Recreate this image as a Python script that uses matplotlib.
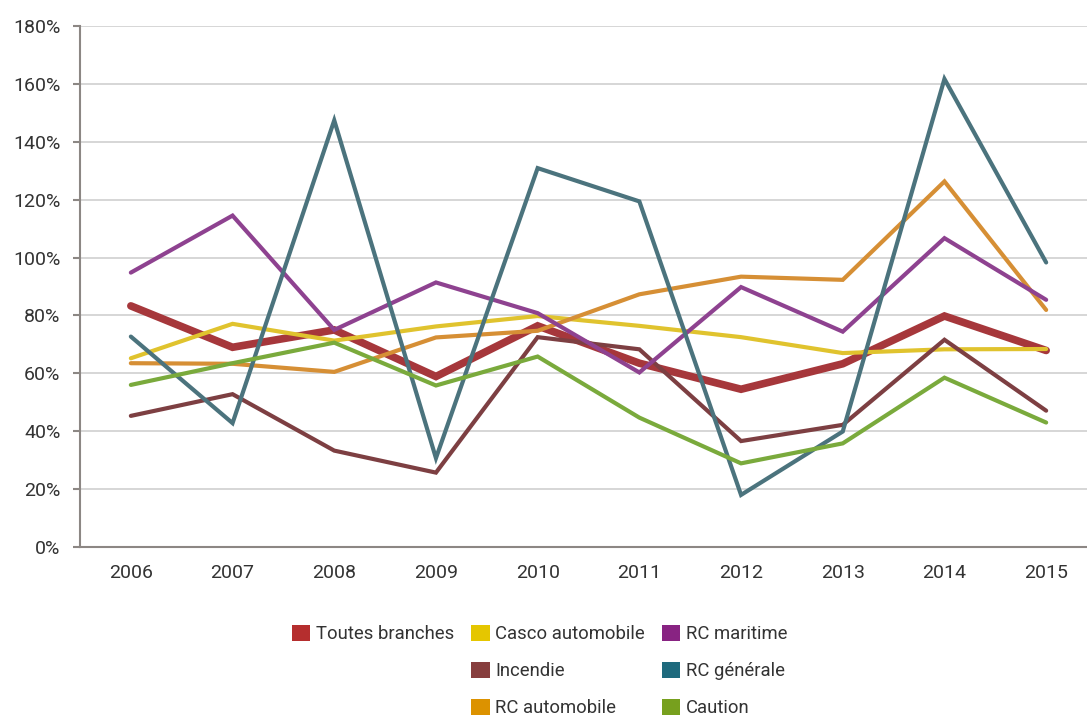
import matplotlib
matplotlib.use("Agg")
import matplotlib.pyplot as plt
from matplotlib.patches import Patch
from matplotlib.ticker import FuncFormatter

plt.rcParams['font.family'] = ['Roboto', 'DejaVu Sans']

years = ["2006", "2007", "2008", "2009", "2010", "2011", "2012", "2013", "2014", "2015"]

toutes_branches = [83.3, 69.0, 75.0, 58.9, 76.4, 63.5, 54.5, 63.3, 79.8, 67.9]
casco_automobile = [65.2, 77.1, 71.3, 76.2, 79.8, 76.4, 72.5, 67.0, 68.3, 68.4]
incendie = [45.3, 52.8, 33.3, 25.7, 72.5, 68.3, 36.6, 42.2, 71.6, 47.1]
rc_automobile = [63.5, 63.3, 60.5, 72.4, 74.7, 87.3, 93.4, 92.3, 126.3, 81.9]
rc_maritime = [94.8, 114.5, 75.0, 91.4, 80.8, 60.3, 89.8, 74.4, 106.7, 85.4]
rc_generale = [72.7, 42.8, 147.4, 30.7, 130.9, 119.4, 18.0, 39.9, 161.7, 98.3]
caution = [56.0, 63.5, 70.6, 55.8, 65.8, 44.7, 28.9, 35.8, 58.5, 43.0]

series = [
    ("Toutes branches", toutes_branches, "#A6373B", "#B52E2E", 5.5),
    ("Casco automobile", casco_automobile, "#E0C32E", "#E5C600", 3.0),
    ("Incendie", incendie, "#7D3F42", "#873E3E", 3.0),
    ("RC automobile", rc_automobile, "#D68F35", "#DC9200", 3.0),
    ("RC maritime", rc_maritime, "#8E4290", "#882382", 3.0),
    ("RC générale", rc_generale, "#4B737D", "#1E6A7D", 3.0),
    ("Caution", caution, "#7AAA3C", "#77A01E", 3.0),
]

W, H = 1087, 716
fig = plt.figure(figsize=(W / 100, H / 100), dpi=100)
ax = fig.add_axes([80 / W, (H - 547) / H, 1017 / W, 521 / H])

x = list(range(len(years)))
for i, (name, vals, lc, _, lw) in enumerate(series):
    ax.plot(x, vals, color=lc, lw=lw, solid_capstyle='round',
            solid_joinstyle='miter', zorder=3 + i)

ax.set_xlim(-0.5, 9.5)
ax.set_ylim(0, 180)
ax.set_yticks(range(0, 181, 20))
ax.yaxis.set_major_formatter(FuncFormatter(lambda v, p: f"{int(v)}%"))
ax.set_xticks(x)
ax.set_xticklabels(years)

ax.grid(axis='y', color='#d0d0d0', lw=1.2, zorder=0)
ax.set_axisbelow(True)
for s in ('top', 'right'):
    ax.spines[s].set_visible(False)
for s in ('left', 'bottom'):
    ax.spines[s].set_color('#8c8784')
    ax.spines[s].set_linewidth(1.5)
    ax.spines[s].set_zorder(20)

ax.tick_params(axis='y', direction='out', length=5, width=1.5, color='#8c8784',
               labelsize=14, labelcolor='#333333', pad=9)
ax.tick_params(axis='x', length=0, labelsize=14, labelcolor='#333333', pad=12)

blank = Patch(facecolor='none', edgecolor='none')
by_name = {s[0]: s for s in series}
def handle(name):
    return Patch(facecolor=by_name[name][3], edgecolor='none')

handles = [handle("Toutes branches"), blank, blank,
           handle("Casco automobile"), handle("Incendie"), handle("RC automobile"),
           handle("RC maritime"), handle("RC générale"), handle("Caution")]
labels = ["Toutes branches", "", "",
          "Casco automobile", "Incendie", "RC automobile",
          "RC maritime", "RC générale", "Caution"]

fig.legend(handles, labels, ncol=3, loc='upper left',
           bbox_to_anchor=(292 / W, (H - 625) / H), bbox_transform=fig.transFigure,
           frameon=False, fontsize=13.3, handlelength=0.98, handleheight=0.98,
           handletextpad=0.3, columnspacing=0.95, labelspacing=1.0,
           borderpad=0, borderaxespad=0, labelcolor='#333333')

fig.savefig("out.png", dpi=100)
